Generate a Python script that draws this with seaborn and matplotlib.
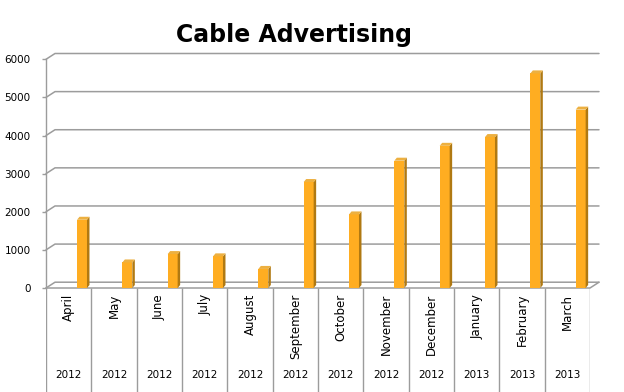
import matplotlib
matplotlib.use("Agg")
import matplotlib.pyplot as plt
from matplotlib.patches import Polygon
import pandas as pd
import seaborn as sns

# data
months = ["April", "May", "June", "July", "August", "September",
          "October", "November", "December", "January", "February", "March"]
years = ["2012", "2012", "2012", "2012", "2012", "2012",
         "2012", "2012", "2012", "2013", "2013", "2013"]
values = [1790, 670, 890, 830, 500, 2780, 1930, 3340, 3730, 3960, 5630, 4680]
y_ticks = [0, 1000, 2000, 3000, 4000, 5000, 6000]

sns.set_style("white")
plt.rcParams['font.family'] = ['DejaVu Sans']

W, H = 624, 392
GRID = '#9C9C9C'
FRONT, SIDE, TOP = '#FFAD21', '#B07912', '#EDB040'


def px_box(x0, y0, x1, y1):
    # pixel box (top-left origin) -> figure fraction [l, b, w, h]
    return [x0 / W, 1 - y1 / H, (x1 - x0) / W, (y1 - y0) / H]


fig = plt.figure(figsize=(W / 100, H / 100), dpi=100)

# main plot area (front plane)
ax_l, ax_t, ax_r, ax_b = 46, 59.3, 590, 288
ax = fig.add_axes(px_box(ax_l, ax_t, ax_r, ax_b))
df = pd.DataFrame({'month': months, 'value': values})
sns.barplot(data=df, x='month', y='value', color=FRONT, width=0.22,
            saturation=1, ax=ax, zorder=3, linewidth=0)
x_lo = -0.794
ax.set_xlim(x_lo, x_lo + len(months))
ax.set_ylim(0, 6000)
ax.set_xticks([])
ax.set_xlabel('')
ax.set_ylabel('')
ax.set_yticks(y_ticks)
ax.set_yticklabels([str(t) for t in y_ticks], fontsize=7.5, color='black')
ax.tick_params(axis='y', length=3, width=1, color=GRID, pad=8, left=True)
for s in ['top', 'right', 'bottom']:
    ax.spines[s].set_visible(False)
ax.spines['left'].set_color(GRID)
ax.spines['left'].set_linewidth(1)

# pixel -> data conversions for the fake depth
ux = len(months) / (ax_r - ax_l)
uy = 6000 / (ax_b - ax_t)

# back wall gridlines + diagonals
gdx, gdy = 9 * ux, 5.8 * uy
x_hi = x_lo + len(months)
for t in y_ticks:
    ax.plot([x_lo, x_lo + gdx, x_hi + gdx], [t, t + gdy, t + gdy],
            color=GRID, lw=1.1, clip_on=False, zorder=1)
# floor
ax.plot([x_lo, x_hi, x_hi + gdx], [0, 0, gdy], color=GRID, lw=1.1,
        clip_on=False, zorder=1)

# 3D faces of bars
bdx, bdy = 2.5 * ux, 3 * uy
for p in list(ax.patches):
    x0 = p.get_x()
    x1 = x0 + p.get_width()
    h = p.get_height()
    ax.add_patch(Polygon([(x1, 0), (x1, h), (x1 + bdx, h + bdy), (x1 + bdx, bdy)],
                         closed=True, color=SIDE, lw=0, zorder=3, clip_on=False))
    ax.add_patch(Polygon([(x0, h), (x1, h), (x1 + bdx, h + bdy), (x0 + bdx, h + bdy)],
                         closed=True, color=TOP, lw=0, zorder=3, clip_on=False))

# category table under the plot
tab = fig.add_axes(px_box(ax_l, ax_b, ax_r, H))
tab.set_xlim(-0.5, len(months) - 0.5)
tab.set_ylim(0, 1)
tab.axis('off')
tab.vlines([i - 0.5 for i in range(len(months) + 1)], 0, 1, color=GRID, lw=1)
for i, (m, y) in enumerate(zip(months, years)):
    tab.text(i, 1 - 6 / (H - ax_b), m, rotation=90, ha='center', va='top',
             fontsize=8.5, color='black')
    tab.text(i, 1 - 87 / (H - ax_b), y, ha='center', va='center',
             fontsize=7.5, color='black')

fig.text(294.5 / W, 1 - 42 / H, "Cable Advertising", ha='center',
         va='baseline', fontsize=17, fontweight='bold', color='black')

fig.savefig("out.png", dpi=100)
